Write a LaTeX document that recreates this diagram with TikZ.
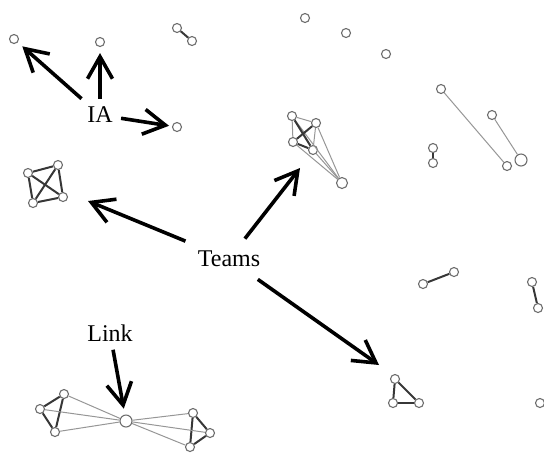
\documentclass[tikz,border=0pt]{standalone}
\usepackage{fontspec}
\setmainfont{Liberation Serif}
\usetikzlibrary{arrows.meta}
\definecolor{nodegray}{RGB}{110,110,110}
\definecolor{edgegray}{RGB}{150,150,150}
\definecolor{edgedark}{RGB}{55,55,55}

\begin{document}
\begin{tikzpicture}[x=0.5pt,y=-0.5pt,
    vtx/.style={circle,draw=nodegray,fill=white,line width=0.55pt,inner sep=0pt,minimum size=4.5pt},
    weak/.style={draw=edgegray,line width=0.5pt},
    strong/.style={draw=edgedark,line width=1pt},
    lbl/.style={inner sep=4pt,font=\fontsize{12}{14}\selectfont},
    pointer/.style={-{Straight Barb[length=11pt,width=12.5pt]},line width=1.8pt}]
    \useasboundingbox (0,0) rectangle (544,452);

    \node[vtx] (s1) at (14,39) {};
    \node[vtx] (s2) at (100,42) {};
    \node[vtx] (s3) at (177,127) {};
    \node[vtx] (s4) at (305,18) {};
    \node[vtx] (s5) at (346,33) {};
    \node[vtx] (s6) at (386,54) {};
    \node[vtx] (s7) at (540,403) {};

    \node[vtx] (d1a) at (177,28) {};
    \node[vtx] (d1b) at (192,41) {};
    \draw[strong] (d1a) -- (d1b);
    \node[vtx] (d2a) at (433,148) {};
    \node[vtx] (d2b) at (433,163) {};
    \draw[strong] (d2a) -- (d2b);
    \node[vtx] (d3a) at (423,284) {};
    \node[vtx] (d3b) at (454,272) {};
    \draw[strong] (d3a) -- (d3b);
    \node[vtx] (d4a) at (532,282) {};
    \node[vtx] (d4b) at (538,308) {};
    \draw[strong] (d4a) -- (d4b);

    \node[vtx] (f) at (441,89) {};
    \node[vtx] (g) at (492,115) {};
    \node[vtx] (h) at (507,166) {};
    \node[vtx,minimum size=6pt] (i) at (521,160) {};
    \draw[weak] (f) -- (h);
    \draw[weak] (g) -- (i);

    \node[vtx] (p1) at (28,173) {};
    \node[vtx] (p2) at (58,165) {};
    \node[vtx] (p3) at (63,197) {};
    \node[vtx] (p4) at (33,203) {};
    \foreach \a/\b in {p1/p2,p2/p3,p3/p4,p4/p1,p1/p3,p2/p4}
        \draw[strong] (\a) -- (\b);

    \node[vtx] (a) at (292,116) {};
    \node[vtx] (b) at (316,123) {};
    \node[vtx] (c) at (293,142) {};
    \node[vtx] (d) at (313,150) {};
    \node[vtx,minimum size=5.5pt] (e) at (342,183) {};
    \foreach \a/\b in {a/b,a/c,b/d,a/e,b/e,c/e,d/e}
        \draw[weak] (\a) -- (\b);
    \foreach \a/\b in {a/d,b/c,c/d}
        \draw[strong] (\a) -- (\b);

    \node[vtx] (t1) at (395,379) {};
    \node[vtx] (t2) at (393,403) {};
    \node[vtx] (t3) at (419,403) {};
    \foreach \a/\b in {t1/t2,t2/t3,t3/t1}
        \draw[strong] (\a) -- (\b);

    \node[vtx] (q1) at (40,409) {};
    \node[vtx] (q2) at (64,394) {};
    \node[vtx] (q3) at (55,432) {};
    \node[vtx,minimum size=6pt] (cut) at (126,421) {};
    \node[vtx] (r1) at (193,413) {};
    \node[vtx] (r2) at (210,433) {};
    \node[vtx] (r3) at (190,447) {};
    \foreach \a/\b in {q1/q2,q2/q3,q1/q3,r1/r2,r1/r3,r2/r3}
        \draw[strong] (\a) -- (\b);
    \foreach \a in {q1,q2,q3,r1,r2,r3}
        \draw[weak] (\a) -- (cut);

    \node[lbl] (ia) at (100,115) {IA};
    \node[lbl,inner sep=6pt] (teams) at (229,259) {Teams};
    \node[lbl] (link) at (110,333) {Link};

    \coordinate (tl) at (88,201);
    \coordinate (tr) at (300,168);
    \coordinate (tb) at (379,365);

    \draw[pointer,shorten >=3pt] (ia) -- (s1);
    \draw[pointer,shorten >=3pt] (ia) -- (s2);
    \draw[pointer,shorten >=1.5pt] (ia) -- (s3);
    \draw[pointer] (teams) -- (tl);
    \draw[pointer] (teams) -- (tr);
    \draw[pointer] (teams) -- (tb);
    \draw[pointer,shorten >=3pt] (link) -- (cut);
\end{tikzpicture}
\end{document}
